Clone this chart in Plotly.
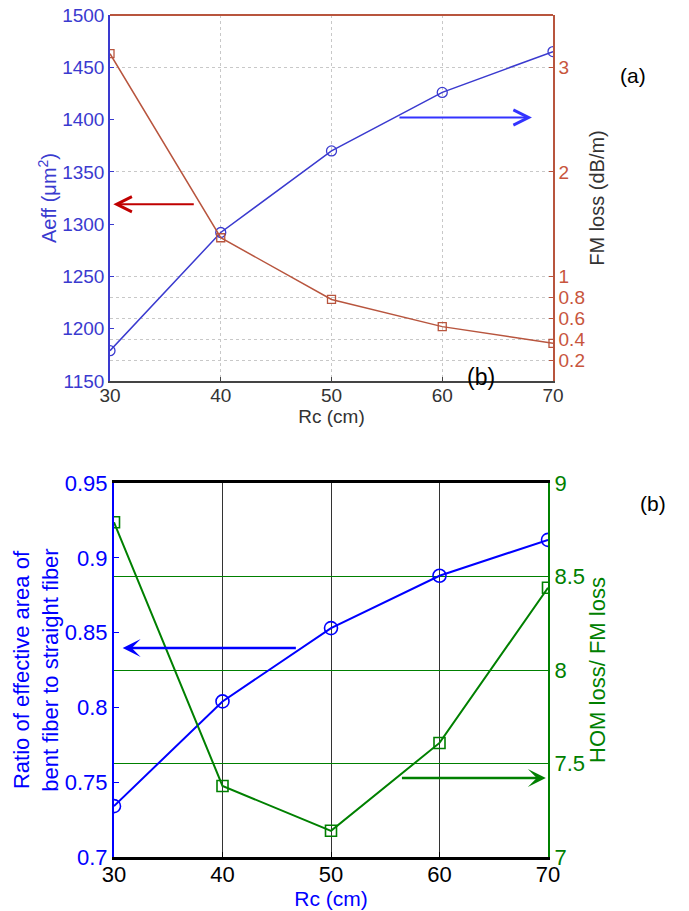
import plotly.graph_objects as go

# ---- data (a) ----
rc = [30, 40, 50, 60, 70]
aeff = [1179, 1292, 1370, 1426, 1465]
fm_loss = [3.13, 1.37, 0.78, 0.52, 0.36]
aeff_ticks = [1150, 1200, 1250, 1300, 1350, 1400, 1450, 1500]
fm_ticks = [0.2, 0.4, 0.6, 0.8, 1, 2, 3]

# ---- data (b) ----
ratio = [0.734, 0.804, 0.853, 0.888, 0.912]
hom_fm = [8.79, 7.38, 7.14, 7.61, 8.44]
ratio_ticks = [0.7, 0.75, 0.8, 0.85, 0.9, 0.95]
hom_ticks = [7, 7.5, 8, 8.5, 9]
x_ticks = [30, 40, 50, 60, 70]

OFF = 8  # page body margin
W, H = 689 - OFF, 911 - OFF


def px(X):
    return (X - OFF) / W


def py(Y):
    return 1 - (Y - OFF) / H


BLUE_A = "#3a3acf"
RED_A = "#b8553e"
TICKRED = "#c8553d"
BLUE_B = "#0000ff"
GREEN_B = "#008000"
FONT = "Liberation Sans, Arial, sans-serif"

fig = go.Figure()

fig.add_trace(go.Scatter(x=rc, y=fm_loss, xaxis="x", yaxis="y2", mode="lines+markers",
                         line=dict(color=RED_A, width=1.5),
                         marker=dict(symbol="square-open", size=8, color=RED_A, line=dict(width=1.3)),
                         showlegend=False))
fig.add_trace(go.Scatter(x=rc, y=aeff, xaxis="x", yaxis="y", mode="lines+markers",
                         line=dict(color=BLUE_A, width=1.5),
                         marker=dict(symbol="circle-open", size=10, color=BLUE_A, line=dict(width=1.3)),
                         showlegend=False))

fig.add_trace(go.Scatter(x=rc, y=hom_fm, xaxis="x2", yaxis="y4", mode="lines+markers",
                         line=dict(color=GREEN_B, width=2),
                         marker=dict(symbol="square-open", size=11, color=GREEN_B, line=dict(width=1.6)),
                         showlegend=False))
fig.add_trace(go.Scatter(x=rc, y=ratio, xaxis="x2", yaxis="y3", mode="lines+markers",
                         line=dict(color=BLUE_B, width=2),
                         marker=dict(symbol="circle-open", size=13, color=BLUE_B, line=dict(width=1.6)),
                         showlegend=False))

fig.update_layout(
    width=W, height=H,
    margin=dict(l=0, r=0, t=0, b=0, autoexpand=False),
    paper_bgcolor="white", plot_bgcolor="white",
    font=dict(family=FONT),
    xaxis=dict(domain=[px(110), px(553)], anchor="y", range=[30, 70], tickvals=x_ticks, automargin=False,
               showline=True, linecolor="#444444", linewidth=1.5, ticks="inside", ticklen=4,
               tickcolor="#444444", tickfont=dict(size=19, color="#333333"), ticklabelstandoff=-4,
               showgrid=True, gridcolor="#c8c8c8", griddash="dot", gridwidth=1, zeroline=False,
               ticklabeloverflow="allow",
               title=dict(text="Rc (cm)", font=dict(size=19, color="#333333"), standoff=0)),
    yaxis=dict(domain=[py(381), py(15)], anchor="x", range=[1150, 1500], tickvals=aeff_ticks, automargin=False,
               showline=True, linecolor=BLUE_A, linewidth=1.5, ticks="inside", ticklen=4,
               tickcolor=BLUE_A, tickfont=dict(size=19, color=BLUE_A), showgrid=False, zeroline=False,
               ticklabeloverflow="allow",
               title=dict(text="Aeff (μm<sup>2</sup>)", font=dict(size=20, color=BLUE_A), standoff=0)),
    yaxis2=dict(overlaying="y", side="right", anchor="x", range=[0, 3.5], tickvals=fm_ticks, automargin=False,
                showline=True, linecolor=RED_A, linewidth=1.5, ticks="inside", ticklen=4,
                tickcolor=RED_A, tickfont=dict(size=19, color=TICKRED),
                showgrid=True, gridcolor="#c8c8c8", griddash="dot", gridwidth=1, zeroline=False,
                ticklabeloverflow="allow",
                title=dict(text="FM loss (dB/m)", font=dict(size=20, color="#333333"), standoff=6)),
    xaxis2=dict(domain=[px(114), px(548)], anchor="y3", range=[30, 70], tickvals=x_ticks, automargin=False,
                showline=True, linecolor="black", linewidth=2.5, mirror=True, ticks="inside", ticklen=5,
                tickcolor="black", tickfont=dict(size=22, color="black"), ticklabelstandoff=-4,
                showgrid=True, gridcolor="#333333", gridwidth=1, zeroline=False,
                ticklabeloverflow="allow",
                title=dict(text="Rc (cm)", font=dict(size=21, color=BLUE_B), standoff=0)),
    yaxis3=dict(domain=[py(857), py(483)], anchor="x2", range=[0.7, 0.95], tickvals=ratio_ticks, automargin=False,
                showline=True, linecolor=BLUE_B, linewidth=2, ticks="inside", ticklen=5,
                tickcolor=BLUE_B, tickfont=dict(size=22, color=BLUE_B), showgrid=False, zeroline=False,
                ticklabeloverflow="allow",
                title=dict(text="Ratio of effective area of<br>bent fiber to straight fiber",
                           font=dict(size=22, color=BLUE_B), standoff=0)),
    yaxis4=dict(overlaying="y3", side="right", anchor="x2", range=[7, 9], tickvals=hom_ticks, automargin=False,
                showline=True, linecolor=GREEN_B, linewidth=2, ticks="inside", ticklen=5,
                tickcolor=GREEN_B, tickfont=dict(size=22, color=GREEN_B),
                showgrid=True, gridcolor=GREEN_B, gridwidth=1, zeroline=False,
                ticklabeloverflow="allow",
                title=dict(text="HOM loss/ FM loss", font=dict(size=22, color=GREEN_B), standoff=2)),
)

# top border of panel (a)
fig.add_shape(type="line", xref="x domain", yref="y domain", x0=0, x1=1, y0=1, y1=1,
              line=dict(color=RED_A, width=2))

# arrows
fig.add_annotation(x=30.3, y=1319, ax=37.7, ay=1319, xref="x", yref="y", axref="x", ayref="y",
                   showarrow=True, arrowhead=5, arrowsize=1.5, arrowwidth=2, arrowcolor="#c00000", text="")
fig.add_annotation(x=68.1, y=1402, ax=56.0, ay=1402, xref="x", yref="y", axref="x", ayref="y",
                   showarrow=True, arrowhead=5, arrowsize=1.5, arrowwidth=2, arrowcolor="#3333ff", text="")
fig.add_annotation(x=30.8, y=0.8397, ax=46.9, ay=0.8397, xref="x2", yref="y3", axref="x2", ayref="y3",
                   showarrow=True, arrowhead=3, arrowsize=1.2, arrowwidth=2.5, arrowcolor=BLUE_B, text="")
fig.add_annotation(x=69.8, y=0.7528, ax=56.4, ay=0.7528, xref="x2", yref="y3", axref="x2", ayref="y3",
                   showarrow=True, arrowhead=3, arrowsize=1.2, arrowwidth=2.5, arrowcolor=GREEN_B, text="")

# panel labels
fig.add_annotation(x=px(648), y=py(62), xref="paper", yref="paper", text="(a)",
                   showarrow=False, font=dict(size=21, color="black"))
fig.add_annotation(x=px(497), y=py(377), xref="paper", yref="paper", text="(b)",
                   showarrow=False, font=dict(size=23, color="black"))
fig.add_annotation(x=px(668), y=py(503), xref="paper", yref="paper", text="(b)",
                   showarrow=False, font=dict(size=21, color="black"))

fig.write_html("out.html")
